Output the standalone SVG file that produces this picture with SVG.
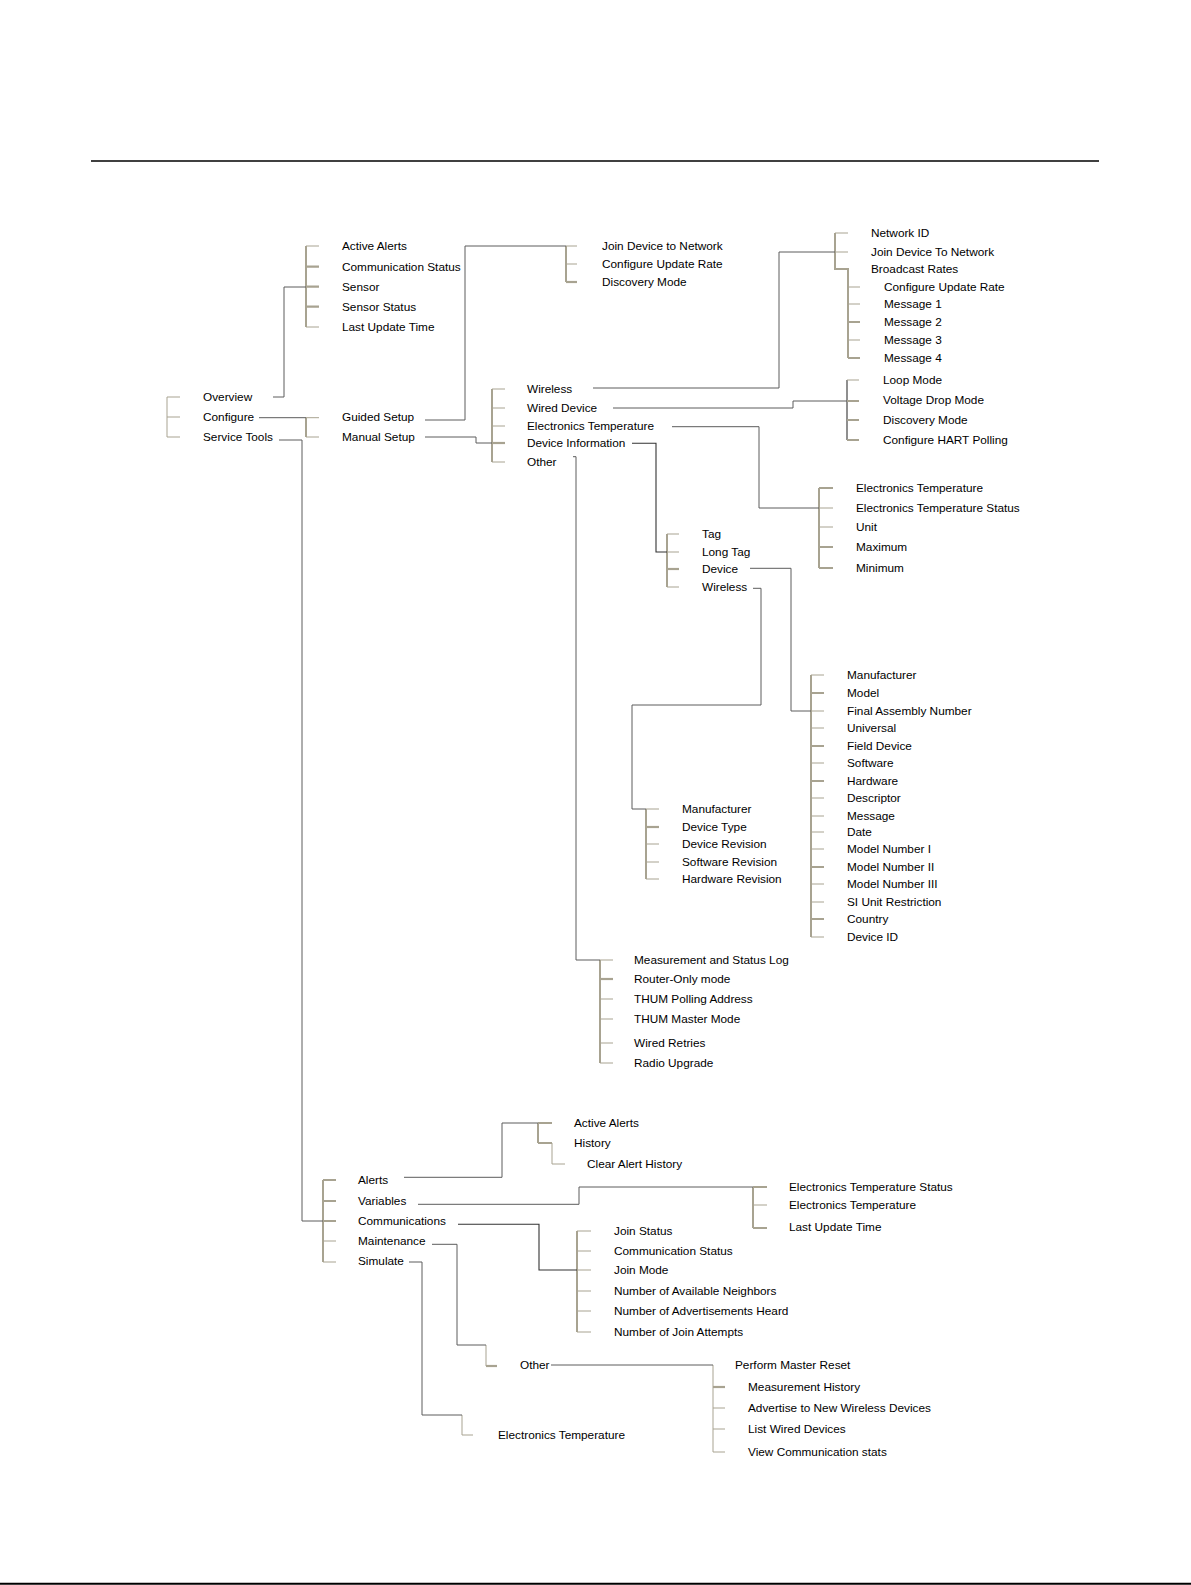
<svg xmlns="http://www.w3.org/2000/svg" width="1191" height="1585" viewBox="0 0 1191 1585">
<style>
text{font-family:"Liberation Sans",Arial,sans-serif;font-size:11.8px;fill:#000}
.b{stroke:#a8a391;stroke-width:2;fill:none}
.t1{stroke:#a8a391;stroke-width:1;fill:none}
.t2{stroke:#a8a391;stroke-width:2.2;fill:none}
.c{stroke:#5c5c5c;stroke-width:1;fill:none}
.k{stroke:#333;stroke-width:1.1;fill:none}
</style>
<rect width="1191" height="1585" fill="#fff"/>
<line x1="91" y1="161" x2="1099" y2="161" stroke="#000" stroke-width="1.6"/>
<line x1="0" y1="1583.8" x2="1191" y2="1583.8" stroke="#000" stroke-width="2"/>

<g id="connectors">
  <!-- brackets -->
  <path class="t1" d="M167 397V437M167 397H180M167 417H180M167 437H180"/>
  <path class="b" d="M306 246V327"/>
  <path class="t1" d="M306 246H319M306 327H319"/>
  <path class="t2" d="M306 266.7H319M306 286.7H319M306 306.7H319"/>
  <path class="b" d="M306 417.7V437"/>
  <path class="t1" d="M306 417.7H319M306 437H319"/>
  <path class="b" d="M566 246V282"/>
  <path class="t1" d="M566 246H577M566 264H577"/>
  <path class="t2" d="M566 282H577"/>
  <path class="b" d="M492 389V462"/>
  <path class="t1" d="M492 389H505M492 408H505M492 426H505M492 462H505"/>
  <path class="t2" d="M492 443H505"/>
  <path class="b" d="M835 233V269H848V358"/>
  <path class="t1" d="M835 233H848M835 252H848M848 287H860M848 304H860M848 340H860"/>
  <path class="t2" d="M848 322H860M848 358H860"/>
  <path class="k" d="M847 380V440"/>
  <path class="t1" d="M847 380H859"/>
  <path class="t2" d="M847 401H859M847 420H859M847 440H859"/>
  <path class="b" d="M819 488V568"/>
  <path class="t1" d="M819 508H833M819 527H833"/>
  <path class="t2" d="M819 488H833M819 547H833M819 568H833"/>
  <path class="b" d="M667 534V587"/>
  <path class="t1" d="M667 534H679M667 552H679M667 587H679"/>
  <path class="t2" d="M667 569H679"/>
  <path class="b" d="M811 675V937"/>
  <path class="t1" d="M811 675H824M811 711H824M811 728H824M811 763H824M811 798H824M811 816H824M811 832H824M811 849H824M811 884H824M811 902H824M811 937H824"/>
  <path class="t2" d="M811 693H824M811 746H824M811 781H824M811 867H824M811 919H824"/>
  <path class="b" d="M646 809V879"/>
  <path class="t1" d="M646 809H659M646 844H659M646 862H659M646 879H659"/>
  <path class="t2" d="M646 827H659"/>
  <path class="b" d="M600 960V1063"/>
  <path class="t1" d="M600 960H613M600 999H613M600 1019H613M600 1043H613M600 1063H613"/>
  <path class="t2" d="M600 979H613"/>
  <path class="b" d="M323 1180V1262"/>
  <path class="t2" d="M323 1180H336M323 1201H336M323 1221H336"/>
  <path class="t1" d="M323 1241H336M323 1262H336"/>
  <path class="b" d="M538 1123V1143"/>
  <path class="t2" d="M538 1123H552M538 1143H552"/>
  <path class="t1" d="M552 1143V1164H565"/>
  <path class="b" d="M753 1187V1228"/>
  <path class="t2" d="M753 1187H767M753 1228H767"/>
  <path class="t1" d="M753 1205H767"/>
  <path class="b" d="M577 1231V1332"/>
  <path class="t1" d="M577 1231H591M577 1251H591M577 1270H591M577 1291H591M577 1311H591M577 1332H591"/>
  <path class="t1" d="M713 1365V1452"/>
  <path class="t2" d="M713 1387H725"/>
  <path class="t1" d="M713 1408H725M713 1429H725M713 1452H725"/>
  <path class="t1" d="M486 1345V1366"/>
  <path class="t2" d="M486 1366H497"/>
  <path class="t1" d="M462 1415V1435H473"/>
  <!-- links -->
  <path class="c" d="M273 397H284V287H306"/>
  <path class="c" d="M259 417.7H306"/>
  <path class="c" d="M279 440H302V1221H323"/>
  <path class="c" d="M425 420H465V246H566"/>
  <path class="c" d="M425 437H476V443H492"/>
  <path class="c" d="M593 388H779V252H835"/>
  <path class="c" d="M613 408H793V401H847"/>
  <path class="c" d="M672 426.7H759V508H819"/>
  <path class="k" d="M632 443.3H656V552H667"/>
  <path class="c" d="M573 456.7H576V960H600"/>
  <path class="c" d="M750 568.3H791V711H811"/>
  <path class="c" d="M753 588.3H761V705H632V809H646"/>
  <path class="c" d="M404 1177.3H502V1123H538"/>
  <path class="c" d="M418 1204.3H579V1187H753"/>
  <path class="k" d="M458 1224.3H539V1270H577"/>
  <path class="c" d="M432 1244.3H457V1345H486"/>
  <path class="c" d="M551 1365H713"/>
  <path class="c" d="M409 1262H422V1415H462"/>
</g>

<g id="n-overview"><text x="203" y="401">Overview</text></g>
<g id="n-configure"><text x="203" y="421">Configure</text></g>
<g id="n-servicetools"><text x="203" y="441">Service Tools</text></g>

<g id="n-ov-activealerts"><text x="342" y="250">Active Alerts</text></g>
<g id="n-ov-commstatus"><text x="342" y="270.7">Communication Status</text></g>
<g id="n-ov-sensor"><text x="342" y="290.7">Sensor</text></g>
<g id="n-ov-sensorstatus"><text x="342" y="310.7">Sensor Status</text></g>
<g id="n-ov-lastupdate"><text x="342" y="330.7">Last Update Time</text></g>

<g id="n-guided"><text x="342" y="421">Guided Setup</text></g>
<g id="n-manual"><text x="342" y="441">Manual Setup</text></g>

<g id="n-gs-join"><text x="602" y="250">Join Device to Network</text></g>
<g id="n-gs-rate"><text x="602" y="268">Configure Update Rate</text></g>
<g id="n-gs-discovery"><text x="602" y="286">Discovery Mode</text></g>

<g id="n-ms-wireless"><text x="527" y="393">Wireless</text></g>
<g id="n-ms-wired"><text x="527" y="412">Wired Device</text></g>
<g id="n-ms-et"><text x="527" y="430">Electronics Temperature</text></g>
<g id="n-ms-devinfo"><text x="527" y="447">Device Information</text></g>
<g id="n-ms-other"><text x="527" y="466">Other</text></g>

<g id="n-w-netid"><text x="871" y="237">Network ID</text></g>
<g id="n-w-join"><text x="871" y="256">Join Device To Network</text></g>
<g id="n-w-broadcast"><text x="871" y="273">Broadcast Rates</text></g>
<g id="n-w-rate"><text x="884" y="291">Configure Update Rate</text></g>
<g id="n-w-m1"><text x="884" y="308">Message 1</text></g>
<g id="n-w-m2"><text x="884" y="326">Message 2</text></g>
<g id="n-w-m3"><text x="884" y="344">Message 3</text></g>
<g id="n-w-m4"><text x="884" y="362">Message 4</text></g>

<g id="n-wd-loop"><text x="883" y="384">Loop Mode</text></g>
<g id="n-wd-vdrop"><text x="883" y="404">Voltage Drop Mode</text></g>
<g id="n-wd-discovery"><text x="883" y="424">Discovery Mode</text></g>
<g id="n-wd-hart"><text x="883" y="444">Configure HART Polling</text></g>

<g id="n-et-et"><text x="856" y="492">Electronics Temperature</text></g>
<g id="n-et-ets"><text x="856" y="512">Electronics Temperature Status</text></g>
<g id="n-et-unit"><text x="856" y="531">Unit</text></g>
<g id="n-et-max"><text x="856" y="551">Maximum</text></g>
<g id="n-et-min"><text x="856" y="572">Minimum</text></g>

<g id="n-di-tag"><text x="702" y="538">Tag</text></g>
<g id="n-di-longtag"><text x="702" y="556">Long Tag</text></g>
<g id="n-di-device"><text x="702" y="573">Device</text></g>
<g id="n-di-wireless"><text x="702" y="591">Wireless</text></g>

<g id="n-d-manufacturer"><text x="847" y="679">Manufacturer</text></g>
<g id="n-d-model"><text x="847" y="697">Model</text></g>
<g id="n-d-fan"><text x="847" y="715">Final Assembly Number</text></g>
<g id="n-d-universal"><text x="847" y="732">Universal</text></g>
<g id="n-d-field"><text x="847" y="750">Field Device</text></g>
<g id="n-d-software"><text x="847" y="767">Software</text></g>
<g id="n-d-hardware"><text x="847" y="785">Hardware</text></g>
<g id="n-d-descriptor"><text x="847" y="802">Descriptor</text></g>
<g id="n-d-message"><text x="847" y="820">Message</text></g>
<g id="n-d-date"><text x="847" y="836">Date</text></g>
<g id="n-d-mn1"><text x="847" y="853">Model Number I</text></g>
<g id="n-d-mn2"><text x="847" y="871">Model Number II</text></g>
<g id="n-d-mn3"><text x="847" y="888">Model Number III</text></g>
<g id="n-d-si"><text x="847" y="906">SI Unit Restriction</text></g>
<g id="n-d-country"><text x="847" y="923">Country</text></g>
<g id="n-d-devid"><text x="847" y="941">Device ID</text></g>

<g id="n-wi-manufacturer"><text x="682" y="813">Manufacturer</text></g>
<g id="n-wi-type"><text x="682" y="831">Device Type</text></g>
<g id="n-wi-rev"><text x="682" y="848">Device Revision</text></g>
<g id="n-wi-swrev"><text x="682" y="866">Software Revision</text></g>
<g id="n-wi-hwrev"><text x="682" y="883">Hardware Revision</text></g>

<g id="n-o-log"><text x="634" y="964">Measurement and Status Log</text></g>
<g id="n-o-router"><text x="634" y="983">Router-Only mode</text></g>
<g id="n-o-thumaddr"><text x="634" y="1003">THUM Polling Address</text></g>
<g id="n-o-thummaster"><text x="634" y="1023">THUM Master Mode</text></g>
<g id="n-o-retries"><text x="634" y="1047">Wired Retries</text></g>
<g id="n-o-radio"><text x="634" y="1067">Radio Upgrade</text></g>

<g id="n-st-alerts"><text x="358" y="1184">Alerts</text></g>
<g id="n-st-variables"><text x="358" y="1205">Variables</text></g>
<g id="n-st-comms"><text x="358" y="1225">Communications</text></g>
<g id="n-st-maint"><text x="358" y="1245">Maintenance</text></g>
<g id="n-st-simulate"><text x="358" y="1265">Simulate</text></g>

<g id="n-al-active"><text x="574" y="1127">Active Alerts</text></g>
<g id="n-al-history"><text x="574" y="1147">History</text></g>
<g id="n-al-clear"><text x="587" y="1168">Clear Alert History</text></g>

<g id="n-v-ets"><text x="789" y="1191">Electronics Temperature Status</text></g>
<g id="n-v-et"><text x="789" y="1209">Electronics Temperature</text></g>
<g id="n-v-lut"><text x="789" y="1231">Last Update Time</text></g>

<g id="n-c-joinstatus"><text x="614" y="1235">Join Status</text></g>
<g id="n-c-commstatus"><text x="614" y="1255">Communication Status</text></g>
<g id="n-c-joinmode"><text x="614" y="1274">Join Mode</text></g>
<g id="n-c-neighbors"><text x="614" y="1295">Number of Available Neighbors</text></g>
<g id="n-c-adverts"><text x="614" y="1315">Number of Advertisements Heard</text></g>
<g id="n-c-attempts"><text x="614" y="1336">Number of Join Attempts</text></g>

<g id="n-m-other"><text x="520" y="1369">Other</text></g>
<g id="n-mo-reset"><text x="735" y="1369">Perform Master Reset</text></g>
<g id="n-mo-history"><text x="748" y="1391">Measurement History</text></g>
<g id="n-mo-advertise"><text x="748" y="1412">Advertise to New Wireless Devices</text></g>
<g id="n-mo-listwired"><text x="748" y="1433">List Wired Devices</text></g>
<g id="n-mo-commstats"><text x="748" y="1456">View Communication stats</text></g>

<g id="n-sim-et"><text x="498" y="1439">Electronics Temperature</text></g>
</svg>
